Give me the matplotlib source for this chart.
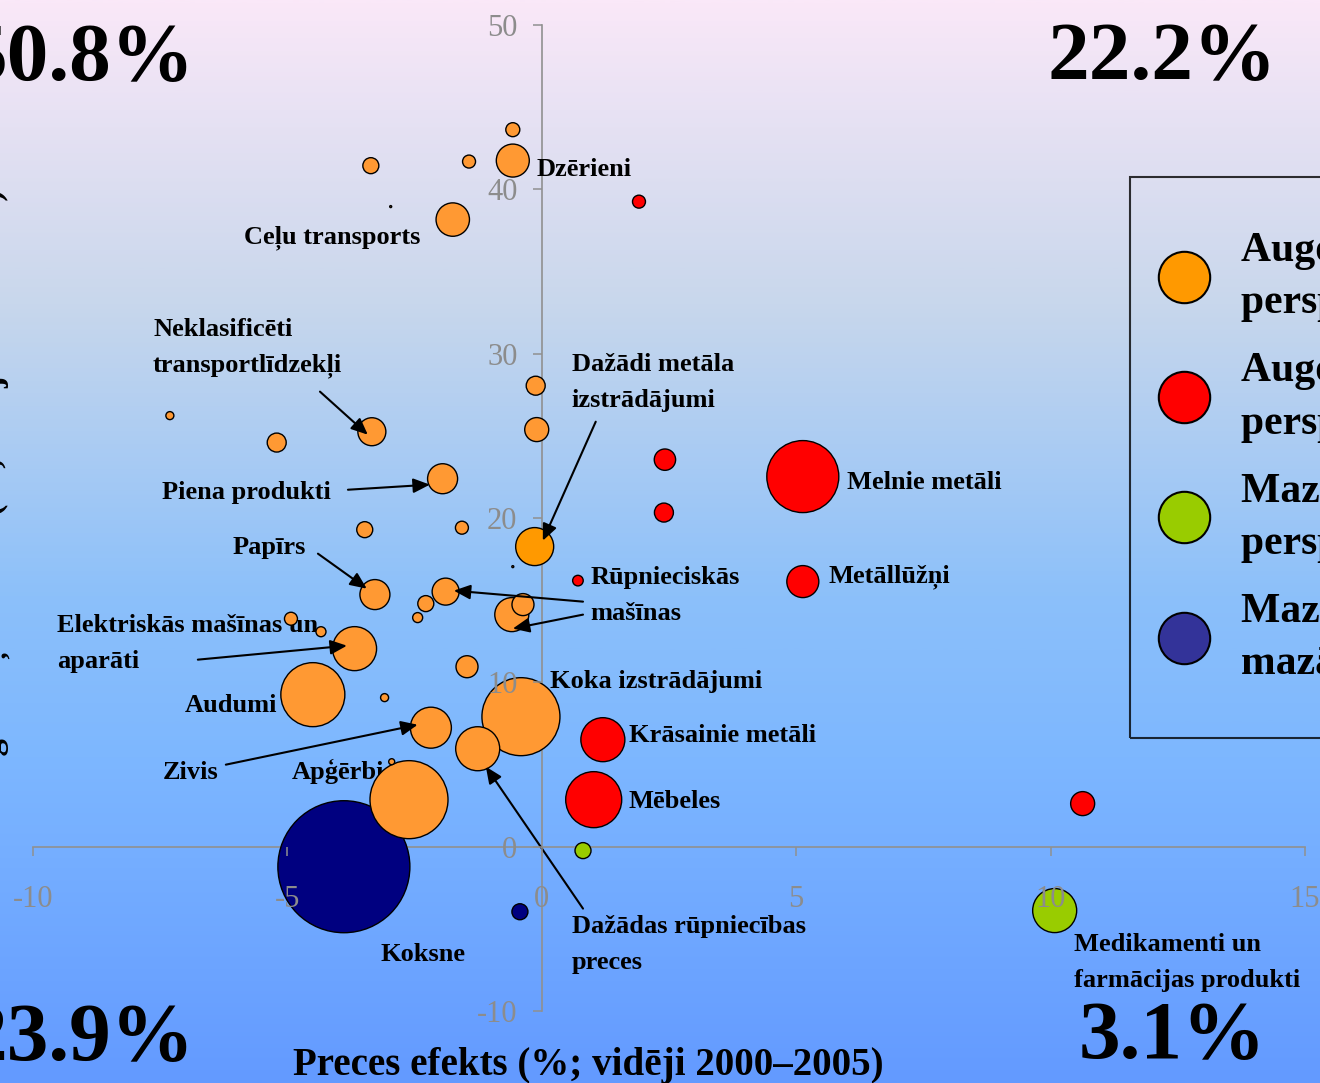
import numpy as np
import matplotlib.pyplot as plt
from matplotlib.colors import LinearSegmentedColormap
from matplotlib.lines import Line2D

plt.rcParams['font.family'] = ['Liberation Serif', 'DejaVu Serif']
plt.rcParams['axes.unicode_minus'] = False

############################ Dati ###############################
# x - preces efekts, y - tirgus daļas efekts, apjoms - burbuļa lielums

oranzie_x = [-0.57, -0.57, -1.43, -3.36, -1.75, -2.97, -7.31, -5.21, -3.34, -1.95,
             -3.48, -3.28, -1.89, -2.28, -2.44, -0.59, -0.37, -4.93, -4.34, -3.68,
             -4.50, -1.47, -3.09, -2.18, -0.41, -1.26, -2.61, -2.95, -0.12, -0.10,
             -1.57, -0.14, -0.57]
oranzie_y = [43.63, 41.75, 41.69, 41.44, 38.16, 38.95, 26.23, 24.59, 25.25, 22.39,
             19.29, 15.34, 15.52, 14.79, 13.94, 14.12, 14.73, 13.87, 13.08, 12.05,
             9.25, 10.95, 9.07, 7.24, 7.91, 5.96, 2.86, 5.17, 28.05, 25.38,
             19.41, 18.26, 17.04]
oranzie_apjoms = [0.49, 2.72, 0.42, 0.64, 2.79, 0.01, 0.16, 0.90, 1.96, 2.25,
                  0.64, 2.25, 1.82, 0.64, 0.25, 2.89, 1.21, 0.42, 0.25, 4.84,
                  10.24, 1.21, 0.16, 4.20, 15.21, 4.84, 15.21, 0.09, 0.90, 1.44,
                  0.42, 3.61, 0.01]

sarkanie_x = [1.91, 2.42, 2.40, 5.13, 0.71, 5.13, 1.20, 1.02, 10.63]
sarkanie_y = [39.25, 23.55, 20.33, 22.52, 16.19, 16.13, 6.51, 2.86, 2.62]
sarkanie_apjoms = [0.42, 1.14, 0.90, 12.96, 0.28, 2.56, 4.84, 7.84, 1.44]

zalie_x = [0.81, 10.08]
zalie_y = [-0.24, -3.89]
zalie_apjoms = [0.64, 4.84]

zilie_x = [-3.89, -0.43]
zilie_y = [-1.22, -3.96]
zilie_apjoms = [43.56, 0.64]

kvadranti = ['50.8%', '22.2%', '23.9%', '3.1%']

legendas_teksti = ['Augoša tirgus daļa\nperspektīvās precēs',
                   'Augoša tirgus daļa\nperspektīvās precēs',
                   'Mazāka tirgus daļa\nperspektīvās precēs',
                   'Mazāka tirgus daļa\nmazāk perspektīvās precēs']

x_ticks = [-10, -5, 0, 5, 10, 15]
y_ticks = [-10, 0, 10, 20, 30, 40, 50]

# uzraksti: teksts, x, y (bāzes līnija), līdzinājums
uzraksti = [
    ('Dzērieni', -0.10, 40.83, 'left'),
    ('Ceļu transports', -2.38, 36.69, 'right'),
    ('Neklasificēti\ntransportlīdzekļi', -7.64, 31.10, 'left'),
    ('Piena produkti', -7.47, 21.18, 'left'),
    ('Papīrs', -6.07, 17.83, 'left'),
    ('Elektriskās mašīnas un\naparāti', -9.53, 13.08, 'left'),
    ('Audumi', -5.19, 8.22, 'right'),
    ('Zivis', -7.45, 4.14, 'left'),
    ('Apģērbi', -4.91, 4.14, 'left'),
    ('Koksne', -3.18, -6.94, 'left'),
    ('Dažādi metāla\nizstrādājumi', 0.59, 28.97, 'left'),
    ('Rūpnieciskās\nmašīnas', 0.96, 16.00, 'left'),
    ('Melnie metāli', 5.99, 21.79, 'left'),
    ('Metāllūžņi', 5.64, 16.06, 'left'),
    ('Koka izstrādājumi', 0.16, 9.68, 'left'),
    ('Krāsainie metāli', 1.71, 6.39, 'left'),
    ('Mēbeles', 1.71, 2.37, 'left'),
    ('Dažādas rūpniecības\npreces', 0.59, -5.23, 'left'),
    ('Medikamenti un\nfarmācijas produkti', 10.46, -6.33, 'left'),
]

# bultas: no (x, y) uz (x, y)
bultas = [
    (-4.36, 27.69, -3.42, 25.07),
    (-3.81, 21.72, -2.20, 22.03),
    (-4.40, 17.83, -3.44, 15.70),
    (-6.76, 11.38, -3.83, 12.23),
    (-6.21, 4.99, -2.44, 7.42),
    (0.81, 14.91, -1.73, 15.58),
    (0.81, 14.12, -0.57, 13.27),
    (1.06, 25.86, 0.02, 18.62),
    (0.81, -3.77, -1.10, 4.87),
]

############################ Zīmējums ###############################
W, H = 1320, 1083
fig = plt.figure(figsize=(W / 100, H / 100), dpi=100)

# fons ar krāsu pāreju
bg = fig.add_axes([0, 0, 1, 1], zorder=0)
fons = LinearSegmentedColormap.from_list('fons', [(0, '#FAE8F8'), (0.28, '#C8D7EC'),
                                                   (0.55, '#8CC0FA'), (0.7, '#7DB7FF'),
                                                   (1, '#639AFF')])
bg.imshow(np.linspace(0, 1, 512).reshape(-1, 1), cmap=fons, aspect='auto', extent=[0, 1, 0, 1])
bg.axis('off')

ax = fig.add_axes([33 / W, 72 / H, 1272 / W, 986 / H], zorder=1)
ax.set_facecolor('none')
ax.set_xlim(-10, 15)
ax.set_ylim(-10, 50)
for s in ['top', 'right']:
    ax.spines[s].set_visible(False)
for s in ['left', 'bottom']:
    ax.spines[s].set_position(('data', 0))
    ax.spines[s].set_color('#909090')
    ax.spines[s].set_linewidth(1.2)
    ax.spines[s].set_zorder(1)
ax.set_xticks(x_ticks)
ax.set_yticks(y_ticks)
ax.set_xticklabels([str(v) for v in x_ticks])
ax.set_yticklabels([str(v) for v in y_ticks])
ax.tick_params(axis='both', colors='#909090', labelcolor='#8c8c8c', labelsize=22,
               length=6.5, width=1.1, direction='out')
ax.tick_params(axis='x', pad=21)
ax.tick_params(axis='y', pad=11)
ax.xaxis.set_zorder(6)
ax.yaxis.set_zorder(6)

K = 207.4  # apjoms -> punktu laukums
oranza_krasa = ['#FF9900' if i == 31 else '#FF9933' for i in range(len(oranzie_x))]
grupas = [
    (zilie_x, zilie_y, zilie_apjoms, '#000080'),
    (zalie_x, zalie_y, zalie_apjoms, '#99CC00'),
    (sarkanie_x, sarkanie_y, sarkanie_apjoms, '#FF0000'),
    (oranzie_x, oranzie_y, oranzie_apjoms, oranza_krasa),
]
for gx, gy, ga, kr in grupas:
    ax.scatter(gx, gy, s=np.array(ga) * K, c=kr, edgecolors='black', linewidths=1.0, zorder=3)

for teksts, x, y, ha in uzraksti:
    for i, rinda in enumerate(teksts.split('\n')):
        ax.text(x, y - i * 2.19, rinda, fontsize=19, fontweight='bold', ha=ha,
                va='baseline', zorder=2.8)

for x0, y0, x1, y1 in bultas:
    ax.annotate('', xy=(x1, y1), xytext=(x0, y0), zorder=5,
                arrowprops=dict(arrowstyle='-|>,head_length=0.5,head_width=0.22',
                                color='black', lw=1.5, shrinkA=0, shrinkB=0,
                                mutation_scale=20))

# kvadrantu procenti
for teksts, (px, py) in zip(kvadranti, [(80, 80), (1162, 79), (80, 1060), (1172, 1058)]):
    fig.text(px / W, 1 - py / H, teksts, fontsize=60, fontweight='bold',
             ha='center', va='baseline')

fig.text(588 / W, 1 - 1075 / H, 'Preces efekts (%; vidēji 2000–2005)', fontsize=28,
         fontweight='bold', ha='center', va='baseline')
fig.text(1 / W, 1 - 496 / H, 'Tirgus daļas efekts (%; vidēji 2000–2005)', fontsize=25,
         fontweight='bold', ha='center', va='baseline', rotation=90, rotation_mode='anchor')

# leģenda
roktura = [Line2D([], [], ls='none', marker='o', markersize=37, markerfacecolor=c,
                  markeredgecolor='black', markeredgewidth=1.5)
           for c in ['#FF9900', '#FF0000', '#99CC00', '#333399']]
leg = fig.legend(roktura, legendas_teksti, loc='upper left',
                 bbox_to_anchor=(1130 / W, 1 - 177 / H), bbox_transform=fig.transFigure,
                 borderaxespad=0, prop={'size': 30, 'weight': 'bold'}, fancybox=False,
                 borderpad=1.3, handlelength=0, handletextpad=1.37, labelspacing=0.71,
                 numpoints=1)
leg.get_frame().set_edgecolor('black')
leg.get_frame().set_linewidth(1.5)
leg.get_frame().set_facecolor('none')
for t in leg.get_texts():
    t.set_linespacing(1.45)

fig.savefig('out.png', dpi=100)
